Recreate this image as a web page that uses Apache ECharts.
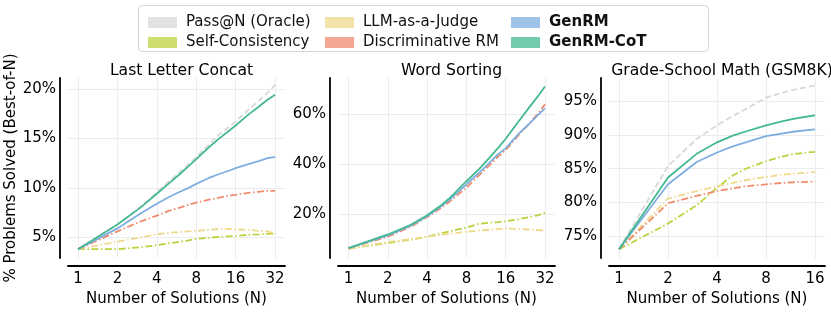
<!DOCTYPE html>
<html><head><meta charset="utf-8">
<script src="https://cdn.jsdelivr.net/npm/echarts@6/dist/echarts.min.js"></script>
<style>html,body{margin:0;padding:0;background:#fff}#c{width:831px;height:312px}</style>
</head><body><div id="c"></div>
<script>
const seriesNames = ['Pass@N (Oracle)','Self-Consistency','LLM-as-a-Judge','Discriminative RM','GenRM','GenRM-CoT'];
const titles = ['Last Letter Concat','Word Sorting','Grade-School Math (GSM8K)'];
const xTicksA = [1,2,4,8,16,32];
const xTicksC = [1,2,4,8,16];
const yTicksA = [5,10,15,20];
const yTicksB = [20,40,60];
const yTicksC = [75,80,85,90,95];

// Panel A: Last Letter Concat
const nA = [1,2,3,4,5,6,7,8,10,12,14,16,20,24,28,32];
const passA   = [3.8,6.3,8.1,9.5,10.7,11.6,12.4,13.1,14.4,15.4,16.1,16.7,17.9,18.8,19.6,20.4];
const scA     = [3.8,3.8,4.0,4.2,4.4,4.55,4.7,4.85,4.95,5.05,5.1,5.15,5.25,5.3,5.35,5.4];
const judgeA  = [3.8,4.55,5.0,5.3,5.45,5.55,5.6,5.65,5.75,5.85,5.85,5.8,5.75,5.65,5.6,5.35];
const discA   = [3.8,5.6,6.6,7.2,7.7,8.0,8.3,8.5,8.8,9.0,9.2,9.3,9.5,9.6,9.7,9.7];
const genA    = [3.8,5.9,7.4,8.4,9.1,9.6,10.0,10.4,11.0,11.4,11.7,12.0,12.4,12.7,13.0,13.1];
const cotA    = [3.8,6.3,8.0,9.4,10.5,11.4,12.2,12.9,14.1,15.0,15.7,16.3,17.4,18.2,18.9,19.4];

// Panel B: Word Sorting
const nB = [1,2,3,4,5,6,7,8,10,12,14,16,20,24,28,32];
const scB     = [6.0,8.3,9.6,10.8,12,13,13.8,14.5,16,16.4,16.7,17,17.8,18.6,19.4,20.4];
const judgeB  = [5.8,8.7,9.8,10.8,11.5,12,12.4,12.8,13.3,13.6,13.9,14.1,13.9,13.7,13.5,13.3];
const discB   = [6.2,10.8,14.8,18.7,22,25,28,30.5,35.5,39.5,43,45.6,51.5,56,60,64];
const genB    = [6.2,11.3,15.2,19.0,22.6,25.8,29,31.8,36.5,40.5,44,46.3,52,56,59.5,62.4];
const cotB    = [6.2,11.7,15.6,19.4,23,26.5,30,33.1,38,42.5,46.5,50.2,57,62.5,67,71.2];

// Panel C: GSM8K
const nC = [1,2,3,4,5,6,8,10,12,16];
const passC   = [73.1,85.4,89.4,91.4,92.8,93.8,95.5,96.2,96.7,97.3];
const scC     = [73.1,76.9,79.6,82.2,84.0,85.0,86.1,86.8,87.2,87.5];
const judgeC  = [73.1,80.6,81.7,82.4,82.9,83.3,83.8,84.1,84.3,84.5];
const discC   = [73.1,79.9,81.0,81.7,82.1,82.4,82.7,82.9,83.0,83.1];
const genC    = [73.1,82.7,86.0,87.4,88.3,88.9,89.8,90.2,90.5,90.8];
const cotC    = [73.1,83.7,87.2,88.9,89.9,90.5,91.4,92.0,92.4,92.9];

const colors = {
  'Pass@N (Oracle)':'#d8d8d8','Self-Consistency':'#bdd13e','LLM-as-a-Judge':'#f0d98c',
  'Discriminative RM':'#f08b6c','GenRM':'#7eaee0','GenRM-CoT':'#44b991'
};
const dashDot = [7,2.5,1.5,2.5];
const styles = {
  'Pass@N (Oracle)':[6,3],'Self-Consistency':dashDot,'LLM-as-a-Judge':dashDot,
  'Discriminative RM':dashDot,'GenRM':'solid','GenRM-CoT':'solid'
};
const FONT = 'DejaVu Sans';
const FS = 15;

function mk(name, idx, ns, vals){
  return {
    type:'line', name, xAxisIndex:idx, yAxisIndex:idx, showSymbol:false, silent:true,
    data: ns.map((n,i)=>[n, vals[i]]),
    lineStyle:{color:colors[name], width:1.8, type:styles[name]},
    itemStyle:{color:colors[name]}, z: name.startsWith('GenRM')?5:3
  };
}
const grids = [
  {left:68, width:217, top:78, height:184},
  {left:338, width:217, top:78, height:184},
  {left:609, width:216, top:78, height:184}
];
function xAx(i, min, max, ticks){
  return {
    type:'log', logBase:2, gridIndex:i, min, max, offset:8,
    axisLine:{show:true, lineStyle:{color:'#000', width:1.8}},
    axisTick:{show:false, customValues:ticks},
    axisLabel:{customValues:ticks, color:'#000', fontFamily:FONT, fontSize:FS, margin:6, formatter:v=>String(Math.round(v))},
    splitLine:{show:true, lineStyle:{color:'#ececec', width:1}},
    name:'Number of Solutions (N)', nameLocation:'middle', nameGap:21,
    nameTextStyle:{color:'#000', fontFamily:FONT, fontSize:FS}
  };
}
function yAx(i, min, max, ticks, name){
  const a = {
    type:'value', gridIndex:i, min, max, offset:8,
    axisLine:{show:true, lineStyle:{color:'#000', width:1.8}},
    axisTick:{show:false, customValues:ticks},
    axisLabel:{customValues:ticks, color:'#000', fontFamily:FONT, fontSize:FS, margin:4, formatter:v=>Math.round(v)+'%'},
    splitLine:{show:true, lineStyle:{color:'#ececec', width:1}}
  };
  if (name){ a.name = name; a.nameLocation='middle'; a.nameGap=40;
    a.nameTextStyle={color:'#000', fontFamily:FONT, fontSize:FS}; }
  return a;
}
const series = [
  mk('Pass@N (Oracle)',0,nA,passA), mk('Self-Consistency',0,nA,scA), mk('LLM-as-a-Judge',0,nA,judgeA),
  mk('Discriminative RM',0,nA,discA), mk('GenRM',0,nA,genA), mk('GenRM-CoT',0,nA,cotA),
  mk('Self-Consistency',1,nB,scB), mk('LLM-as-a-Judge',1,nB,judgeB),
  mk('Discriminative RM',1,nB,discB), mk('GenRM',1,nB,genB), mk('GenRM-CoT',1,nB,cotB),
  mk('Pass@N (Oracle)',2,nC,passC), mk('Self-Consistency',2,nC,scC), mk('LLM-as-a-Judge',2,nC,judgeC),
  mk('Discriminative RM',2,nC,discC), mk('GenRM',2,nC,genC), mk('GenRM-CoT',2,nC,cotC)
];
function leg(left, names){
  return {
    orient:'vertical', left, top:10, itemGap:5, itemWidth:29, itemHeight:11, icon:'rect',
    data:names, selectedMode:false,
    itemStyle:{opacity:0.75, borderWidth:0},
    textStyle:{color:'#111', fontFamily:FONT, fontSize:FS, padding:[0,0,0,4],
      rich:{b:{fontWeight:'bold', fontFamily:FONT, fontSize:FS, color:'#111'}}},
    formatter: n => n.startsWith('GenRM') ? '{b|'+n+'}' : n
  };
}
const chart = echarts.init(document.getElementById('c'), null, {renderer:'canvas'});
chart.setOption({
  animation:false,
  title: titles.map((t,i)=>({text:t, left:grids[i].left+grids[i].width/2, textAlign:'center', top:58,
    textStyle:{fontFamily:FONT, fontSize:15.6, fontWeight:'normal', color:'#000'}})),
  graphic:[{type:'rect', shape:{x:138.5, y:5.5, width:570, height:46, r:4},
    style:{fill:'#fff', stroke:'#d4d4d4', lineWidth:1}, z:-1}],
  legend:[leg(143, [seriesNames[0],seriesNames[1]]), leg(320,[seriesNames[2],seriesNames[3]]), leg(506,[seriesNames[4],seriesNames[5]])],
  grid: grids,
  xAxis:[xAx(0,0.839,38.1,xTicksA), xAx(1,0.83,38.2,xTicksA), xAx(2,0.868,18.43,xTicksC)],
  yAxis:[yAx(0,2.9,21.1,yTicksA,'% Problems Solved (Best-of-N)'), yAx(1,2.2,74.6,yTicksB), yAx(2,71.8,98.4,yTicksC)],
  series
});
</script></body></html>
